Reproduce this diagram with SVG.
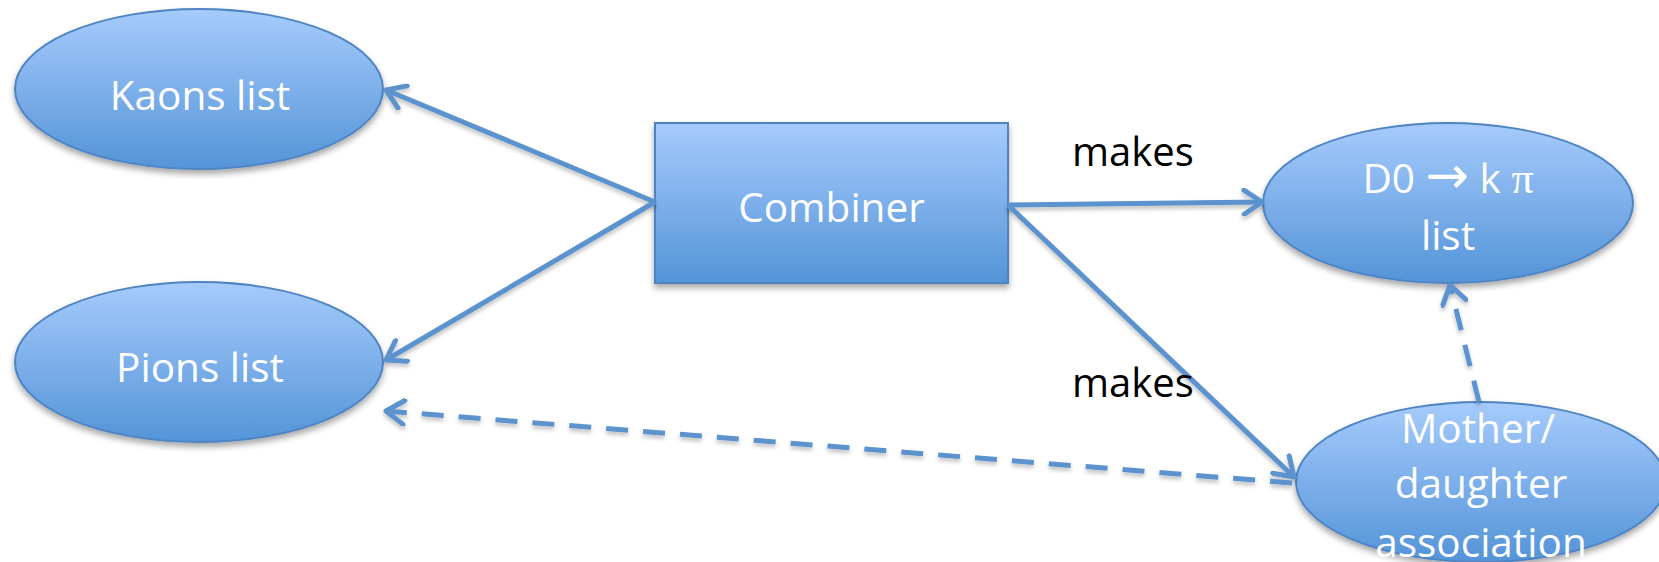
<svg xmlns="http://www.w3.org/2000/svg" width="1659" height="562" viewBox="0 0 1659 562">
<style>
.node{fill:url(#g);stroke:#4f84c4;stroke-width:2;filter:url(#sh)}
.lbl{font-family:"Open Sans","Liberation Sans",sans-serif;font-size:40.5px;fill:#ffffff;text-anchor:middle}
.edge{font-family:"Open Sans","Liberation Sans",sans-serif;font-size:40px;fill:#000000}
.c{stroke:#5b93cf;stroke-width:5;fill:none;filter:url(#sh2)}
.d{stroke-dasharray:22 15}
</style>
<defs>
<linearGradient id="g" x1="0" y1="0" x2="0" y2="1">
<stop offset="0" stop-color="#a6cbfc"/>
<stop offset="1" stop-color="#5494d8"/>
</linearGradient>
<filter id="sh" x="-10%" y="-10%" width="120%" height="130%">
<feDropShadow dx="0" dy="4" stdDeviation="3" flood-color="#000" flood-opacity="0.35"/>
</filter>
<filter id="sh2" filterUnits="userSpaceOnUse" x="0" y="0" width="1659" height="562">
<feDropShadow dx="0" dy="3" stdDeviation="2" flood-color="#000" flood-opacity="0.25"/>
</filter>
<marker id="a" markerUnits="userSpaceOnUse" viewBox="-22 -14 26 28" refX="0" refY="0" markerWidth="26" markerHeight="28" orient="auto">
<path d="M-18,-12 L0,0 L-18,12" fill="none" stroke="#5b93cf" stroke-width="5" stroke-linejoin="round" stroke-linecap="round"/>
</marker>
</defs>
<g id="kaons"><ellipse class="node" cx="199" cy="89" rx="184" ry="80"/><text class="lbl" x="200" y="110">Kaons list</text></g>
<g id="pions"><ellipse class="node" cx="199" cy="362" rx="184" ry="80"/><text class="lbl" x="200" y="382">Pions list</text></g>
<g id="combiner"><rect class="node" x="655" y="123" width="353" height="160"/><text class="lbl" x="831.5" y="222">Combiner</text></g>
<g id="d0"><ellipse class="node" cx="1448" cy="203" rx="185" ry="80"/><text class="lbl" x="1448" y="193">D0 <tspan style="font-family:'DejaVu Sans',sans-serif;font-size:52px">→</tspan> k <tspan style="font-family:'Liberation Serif',serif;font-size:44px">π</tspan></text><text class="lbl" x="1448" y="250">list</text></g>
<g id="mother"><ellipse class="node" cx="1481" cy="482" rx="185" ry="80"/><text class="lbl" x="1478" y="443">Mother/</text><text class="lbl" x="1481" y="498">daughter</text><text class="lbl" x="1481" y="557">association</text></g>
<g id="connectors">
<line class="c" x1="655" y1="202" x2="386" y2="90" marker-end="url(#a)"/>
<line class="c" x1="655" y1="202" x2="386" y2="360" marker-end="url(#a)"/>
<line class="c" x1="1008" y1="205" x2="1262" y2="202" marker-end="url(#a)"/>
<line class="c" x1="1008" y1="205" x2="1294" y2="477" marker-end="url(#a)"/>
<line class="c d" x1="1292" y1="483" x2="386" y2="411" marker-end="url(#a)"/>
<line class="c d" x1="1479" y1="402" x2="1450" y2="285" marker-end="url(#a)"/>
<text class="edge" x="1072" y="166">makes</text>
<text class="edge" x="1072" y="397">makes</text>
</g>
</svg>
